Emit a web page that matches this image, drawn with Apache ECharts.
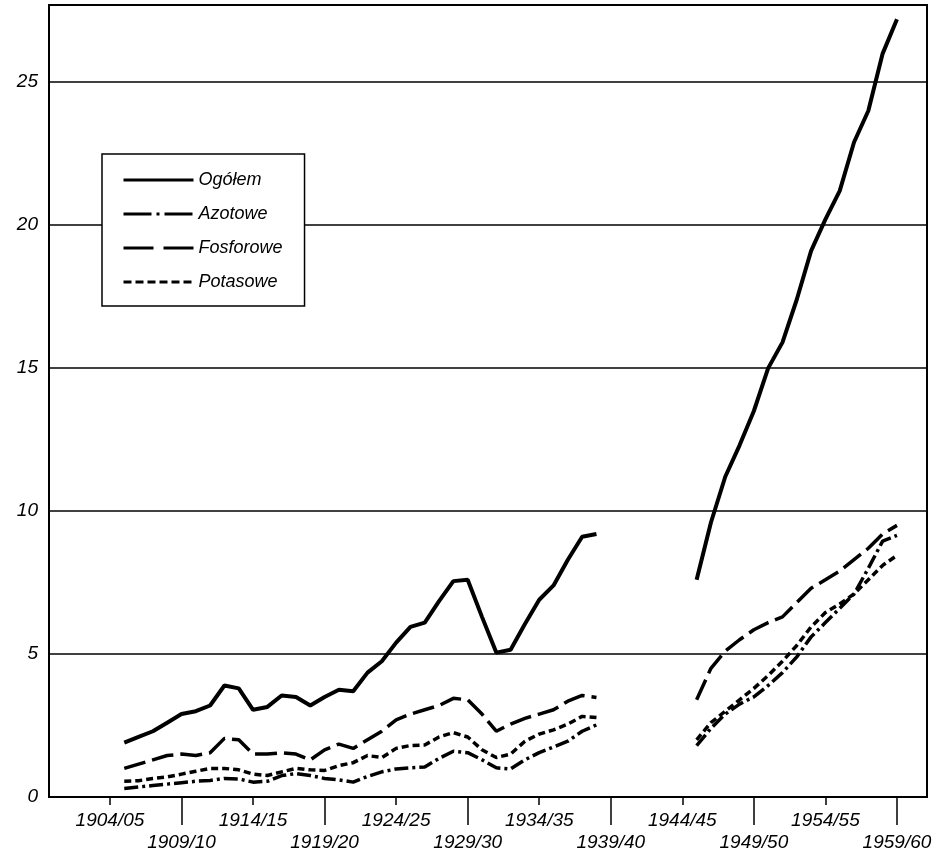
<!DOCTYPE html>
<html>
<head>
<meta charset="utf-8">
<script src="https://cdn.jsdelivr.net/npm/echarts@6/dist/echarts.min.js"></script>
<style>
html,body{margin:0;padding:0;background:#fff;}
#chart{width:936px;height:860px;}
</style>
</head>
<body>
<div id="chart"></div>
<script>
// ---- data ----
const seriesNames = ['Ogółem', 'Azotowe', 'Fosforowe', 'Potasowe'];

const preWarYears = [1905, 1906, 1907, 1908, 1909, 1910, 1911, 1912, 1913, 1914,
  1915, 1916, 1917, 1918, 1919, 1920, 1921, 1922, 1923, 1924,
  1925, 1926, 1927, 1928, 1929, 1930, 1931, 1932, 1933, 1934,
  1935, 1936, 1937, 1938];
const postWarYears = [1945, 1946, 1947, 1948, 1949, 1950, 1951, 1952, 1953, 1954,
  1955, 1956, 1957, 1958, 1959];

const ogolemPre = [1.9, 2.1, 2.3, 2.6, 2.9, 3.0, 3.2, 3.9, 3.8, 3.05,
  3.15, 3.55, 3.5, 3.2, 3.5, 3.75, 3.7, 4.35, 4.75, 5.4,
  5.95, 6.1, 6.85, 7.55, 7.6, 6.3, 5.05, 5.15, 6.05, 6.9,
  7.4, 8.3, 9.1, 9.2];
const ogolemPost = [7.6, 9.6, 11.2, 12.3, 13.5, 15.0, 15.9, 17.4, 19.1, 20.2,
  21.2, 22.9, 24.0, 26.0, 27.2];

const azotowePre = [0.3, 0.35, 0.4, 0.45, 0.5, 0.55, 0.58, 0.65, 0.63, 0.52,
  0.55, 0.75, 0.82, 0.75, 0.65, 0.6, 0.52, 0.72, 0.88, 0.98,
  1.02, 1.05, 1.35, 1.6, 1.55, 1.3, 1.02, 0.98, 1.3, 1.55,
  1.75, 1.95, 2.3, 2.52];
const azotowePost = [1.8, 2.4, 2.9, 3.25, 3.5, 3.9, 4.35, 4.9, 5.6, 6.1,
  6.6, 7.1, 8.0, 8.95, 9.15];

const fosforowePre = [1.0, 1.15, 1.3, 1.45, 1.5, 1.45, 1.55, 2.05, 2.0, 1.5,
  1.5, 1.55, 1.5, 1.3, 1.65, 1.85, 1.7, 2.0, 2.3, 2.7,
  2.9, 3.05, 3.2, 3.45, 3.4, 2.9, 2.3, 2.55, 2.75, 2.9,
  3.05, 3.35, 3.55, 3.48];
const fosforowePost = [3.4, 4.5, 5.1, 5.5, 5.85, 6.1, 6.3, 6.8, 7.3, 7.6,
  7.9, 8.3, 8.7, 9.2, 9.5];

const potasowePre = [0.55, 0.57, 0.65, 0.7, 0.8, 0.9, 1.0, 1.0, 0.95, 0.8,
  0.75, 0.88, 1.0, 0.95, 0.93, 1.1, 1.2, 1.45, 1.38, 1.7,
  1.8, 1.82, 2.1, 2.25, 2.1, 1.65, 1.38, 1.5, 1.95, 2.2,
  2.35, 2.55, 2.82, 2.78];
const potasowePost = [2.0, 2.6, 3.0, 3.4, 3.8, 4.25, 4.75, 5.3, 5.95, 6.45,
  6.75, 7.1, 7.6, 8.1, 8.45];

const tickYears = [1904, 1909, 1914, 1919, 1924, 1929, 1934, 1939, 1944, 1949, 1954, 1959];
const tickLabels = ['1904/05', '1909/10', '1914/15', '1919/20', '1924/25', '1929/30',
  '1934/35', '1939/40', '1944/45', '1949/50', '1954/55', '1959/60'];
const yTicks = [0, 5, 10, 15, 20, 25];

// ---- build ----
const gapYear = 1942;
function build(pre, post) {
  const d = [];
  preWarYears.forEach((y, i) => d.push([y, pre[i]]));
  d.push([gapYear, '-']);
  postWarYears.forEach((y, i) => d.push([y, post[i]]));
  return d;
}

const FONT = '"Liberation Sans", Arial, sans-serif';
const X_MIN = 1899.74, X_MAX = 1961.1;
const upperTicks = tickYears.filter((_, i) => i % 2 === 0);
const lowerTicks = tickYears.filter((_, i) => i % 2 === 1);
const labelOf = v => {
  const i = tickYears.indexOf(Math.round(v));
  return i >= 0 ? tickLabels[i] : '';
};

const styles = {
  'Ogółem':    { width: 4,   type: 'solid',        legendType: 'solid' },
  'Azotowe':   { width: 3.5, type: [14, 4, 3, 4],  legendType: [28, 5, 3, 5] },
  'Fosforowe': { width: 3.5, type: [22, 7],        legendType: [30, 10] },
  'Potasowe':  { width: 3.5, type: [7, 4],         legendType: [8, 4] }
};
const dataMap = {
  'Ogółem': build(ogolemPre, ogolemPost),
  'Azotowe': build(azotowePre, azotowePost),
  'Fosforowe': build(fosforowePre, fosforowePost),
  'Potasowe': build(potasowePre, potasowePost)
};

const chart = echarts.init(document.getElementById('chart'), null, { renderer: 'canvas' });

const xCommon = {
  type: 'value', min: X_MIN, max: X_MAX, position: 'bottom', gridIndex: 0,
  splitLine: { show: false }, minorTick: { show: false }
};

chart.setOption({
  animation: false,
  backgroundColor: '#fff',
  grid: {
    left: 49, right: 9, top: 5, bottom: 63, containLabel: false,
    show: true, borderColor: '#000', borderWidth: 2, backgroundColor: 'transparent'
  },
  legend: {
    orient: 'vertical', left: 102, top: 154,
    padding: [17, 22, 15, 20], itemGap: 16, itemWidth: 70, itemHeight: 14,
    backgroundColor: '#fff', borderColor: '#000', borderWidth: 1.5,
    itemStyle: { opacity: 0 },
    textStyle: { fontSize: 18, fontStyle: 'italic', fontFamily: FONT, color: '#000' },
    data: seriesNames.map(n => ({
      name: n,
      itemStyle: { opacity: 0 },
      lineStyle: { color: '#000', width: 3, type: styles[n].legendType }
    }))
  },
  xAxis: [
    Object.assign({}, xCommon, {
      axisLine: { show: true, lineStyle: { color: '#000', width: 2 } },
      axisTick: { show: true, customValues: upperTicks, length: 8, lineStyle: { color: '#000', width: 1.5 } },
      axisLabel: { show: true, customValues: upperTicks, formatter: labelOf, margin: 14,
        fontSize: 19, fontStyle: 'italic', fontFamily: FONT, color: '#000' }
    }),
    Object.assign({}, xCommon, {
      axisLine: { show: false },
      axisTick: { show: true, customValues: lowerTicks, length: 28, lineStyle: { color: '#000', width: 1.5 } },
      axisLabel: { show: true, customValues: lowerTicks, formatter: labelOf, margin: 36,
        fontSize: 19, fontStyle: 'italic', fontFamily: FONT, color: '#000' }
    })
  ],
  yAxis: {
    type: 'value', min: 0, max: 27.7, interval: 5,
    axisLine: { show: true, lineStyle: { color: '#000', width: 2 } },
    axisTick: { show: false },
    axisLabel: { margin: 11, fontSize: 19, fontStyle: 'italic', fontFamily: FONT, color: '#000',
      showMaxLabel: false, formatter: v => (yTicks.indexOf(v) >= 0 ? String(v) : '') },
    splitLine: { show: true, lineStyle: { color: '#000', width: 1.5 } }
  },
  series: seriesNames.map(name => ({
    name: name, type: 'line', xAxisIndex: 0, yAxisIndex: 0,
    symbol: 'none', showSymbol: false, connectNulls: false, smooth: false,
    lineStyle: { color: '#000', width: styles[name].width, type: styles[name].type },
    itemStyle: { color: '#000' },
    data: dataMap[name]
  }))
});
</script>
</body>
</html>
